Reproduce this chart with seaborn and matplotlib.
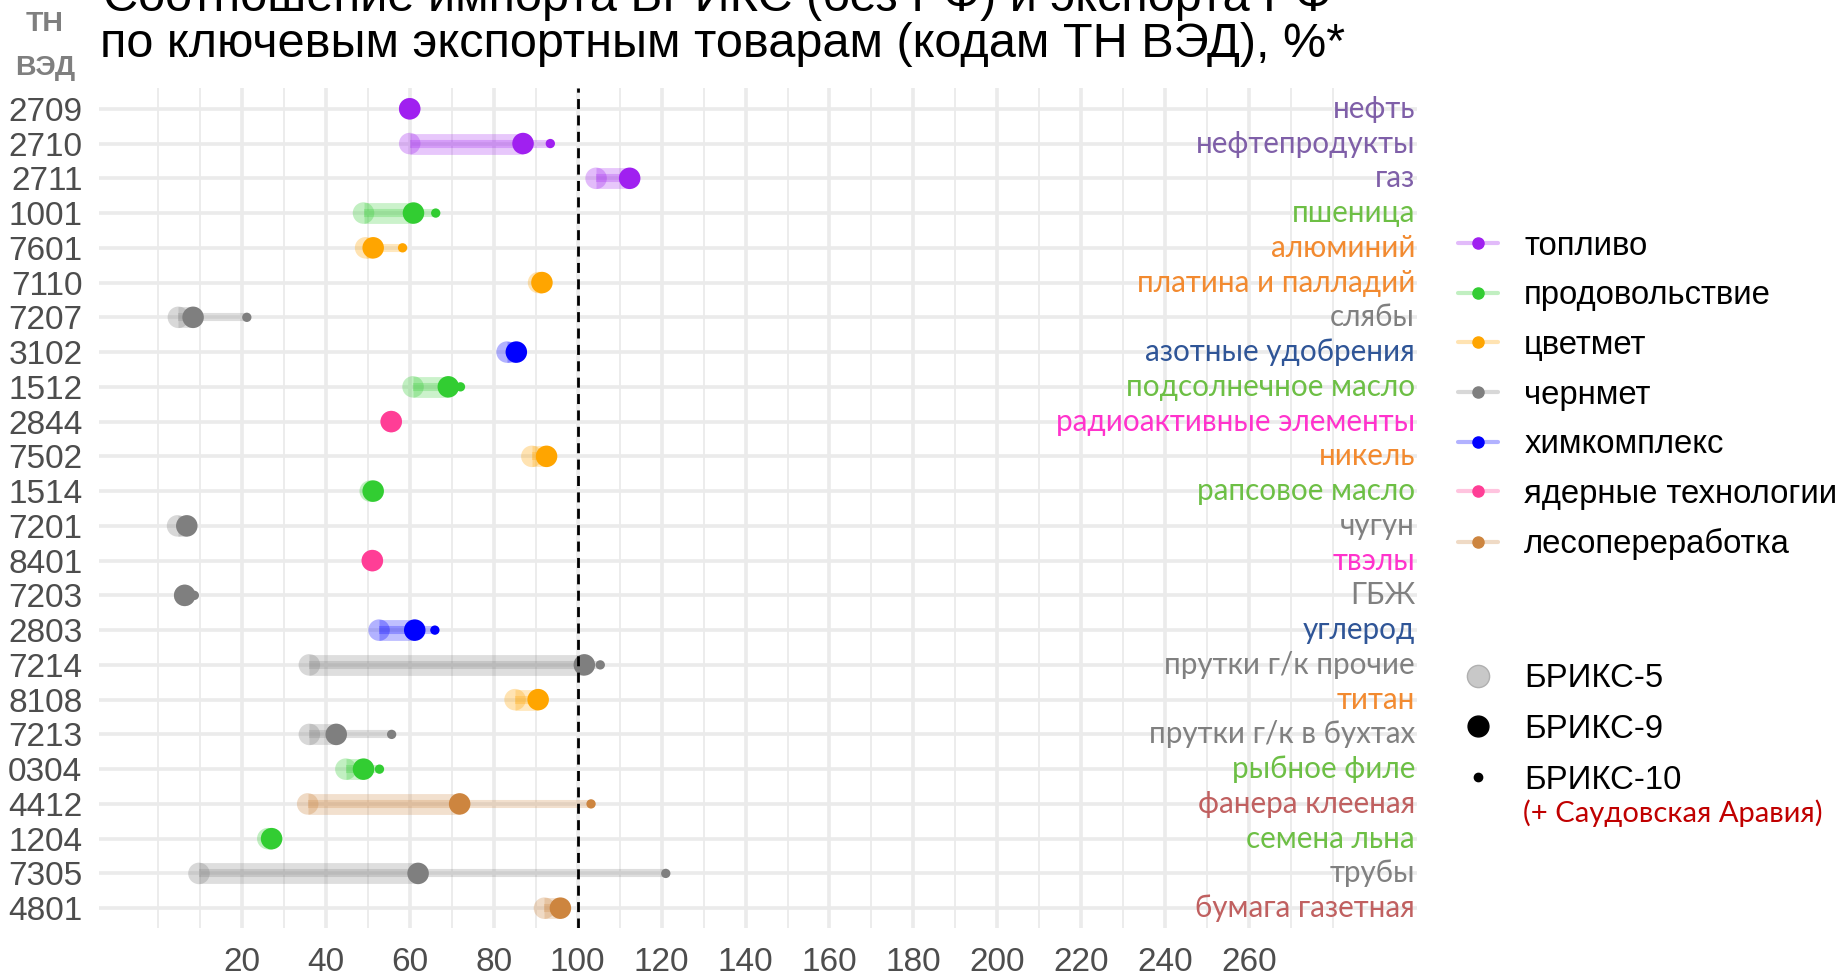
import numpy as np
import pandas as pd
import matplotlib.pyplot as plt
import seaborn as sns
from matplotlib.lines import Line2D

# HS codes, product names, product groups, and the three ratios (%)
codes = ["2709", "2710", "2711", "1001", "7601", "7110", "7207", "3102",
         "1512", "2844", "7502", "1514", "7201", "8401", "7203", "2803",
         "7214", "8108", "7213", "0304", "4412", "1204", "7305", "4801"]
names = ["нефть", "нефтепродукты", "газ", "пшеница", "алюминий",
         "платина и палладий", "слябы", "азотные удобрения",
         "подсолнечное масло", "радиоактивные элементы", "никель",
         "рапсовое масло", "чугун", "твэлы", "ГБЖ", "углерод",
         "прутки г/к прочие", "титан", "прутки г/к в бухтах", "рыбное филе",
         "фанера клееная", "семена льна", "трубы", "бумага газетная"]
groups = ["топливо", "топливо", "топливо", "продовольствие", "цветмет",
          "цветмет", "чернмет", "химкомплекс", "продовольствие",
          "ядерные технологии", "цветмет", "продовольствие", "чернмет",
          "ядерные технологии", "чернмет", "химкомплекс", "чернмет",
          "цветмет", "чернмет", "продовольствие", "лесопереработка",
          "продовольствие", "чернмет", "лесопереработка"]
brics5 = [60.0, 60.0, 104.4, 49.0, 49.5, 90.7, 4.9, 83.2, 60.8, 55.6, 89.1,
          50.6, 4.7, 51.1, 6.4, 52.7, 36.1, 85.1, 36.1, 44.8, 35.7, 26.2,
          9.8, 92.1]
brics9 = [60.0, 87.0, 112.4, 60.9, 51.3, 91.5, 8.4, 85.4, 69.2, 55.6, 92.6,
          51.3, 6.9, 51.1, 6.4, 61.2, 101.6, 90.6, 42.5, 49.0, 71.9, 27.1,
          62.0, 95.9]
brics10 = [60.0, 93.5, 112.4, 66.2, 58.3, 91.5, 21.2, 85.4, 72.1, 55.6,
           92.6, 51.3, 6.9, 51.1, 8.7, 66.0, 105.4, 90.6, 55.7, 52.8, 103.2,
           27.1, 121.0, 95.9]

group_order = ["топливо", "продовольствие", "цветмет", "чернмет",
               "химкомплекс", "ядерные технологии", "лесопереработка"]
group_colors = {
    "топливо": "#A020F0",
    "продовольствие": "#32CD32",
    "цветмет": "#FFA500",
    "чернмет": "#7F7F7F",
    "химкомплекс": "#0000FF",
    "ядерные технологии": "#FF3E96",
    "лесопереработка": "#CD853F",
}
label_colors = {
    "топливо": "#7F5FA8",
    "продовольствие": "#6DBF45",
    "цветмет": "#F28A30",
    "чернмет": "#808080",
    "химкомплекс": "#2F5597",
    "ядерные технологии": "#FF33CC",
    "лесопереработка": "#C06060",
}

df = pd.DataFrame({"code": codes, "name": names, "group": groups,
                   "b5": brics5, "b9": brics9, "b10": brics10})
df["row"] = np.arange(len(df))
df["color"] = df["group"].map(group_colors)

sns.set_theme(style="whitegrid")
plt.rcParams["font.family"] = ["Liberation Sans", "DejaVu Sans"]
label_font = ["Lato", "Open Sans", "DejaVu Sans"]

fig = plt.figure(figsize=(18.41, 9.76), dpi=100)
ax = fig.add_axes([0.0538, 0.0492, 0.716, 0.8607])

# bars: BRICS-5 -> BRICS-9 (thick), BRICS-5 -> BRICS-10 (thin)
ax.hlines(df["row"], df["b5"], df["b9"], colors=df["color"], lw=15,
          alpha=0.25, capstyle="butt", zorder=2)
ax.hlines(df["row"], df["b5"], df["b10"], colors=df["color"], lw=5.8,
          alpha=0.25, capstyle="butt", zorder=2)

sns.scatterplot(data=df, x="b5", y="row", hue="group", palette=group_colors,
                s=240, alpha=0.3, linewidth=0, legend=False, ax=ax, zorder=3)
sns.scatterplot(data=df, x="b9", y="row", hue="group", palette=group_colors,
                s=240, linewidth=0, legend=False, ax=ax, zorder=4)
sns.scatterplot(data=df, x="b10", y="row", hue="group", palette=group_colors,
                s=45, linewidth=0, legend=False, ax=ax, zorder=5)

ax.axvline(100, color="black", lw=2, dashes=(3.6, 2.3), zorder=6)

for _, r in df.iterrows():
    ax.text(299.5, r["row"], r["name"], ha="right", va="center",
            color=label_colors[r["group"]], fontsize=21.3, family=label_font,
            zorder=7)

ax.set_xlim(-14, 300)
ax.set_ylim(len(df) - 0.43, -0.6)
ax.set_xticks(range(20, 261, 20))
ax.set_xticks([0, 10] + list(range(30, 260, 20)) + [270, 280], minor=True)
ax.set_yticks(df["row"])
ax.set_yticklabels(df["code"])
ax.set_xlabel("")
ax.set_ylabel("")
ax.grid(False)
ax.grid(which="major", axis="x", color="#EBEBEB", lw=2.6)
ax.grid(which="minor", axis="x", color="#EBEBEB", lw=1.3)
ax.grid(which="major", axis="y", color="#EBEBEB", lw=2.6)
ax.set_axisbelow(True)
for s in ax.spines.values():
    s.set_visible(False)
ax.tick_params(axis="both", which="both", length=0, labelsize=24,
               labelcolor="#4D4D4D")
ax.tick_params(axis="x", pad=14)
ax.tick_params(axis="y", pad=12)

# legend: product groups
grp_handles = [
    (Line2D([], [], color=group_colors[g], lw=3, alpha=0.3),
     Line2D([], [], color=group_colors[g], marker="o", markersize=8, lw=0))
    for g in group_order
]
leg1 = ax.legend(grp_handles, group_order, loc="upper left",
                 bbox_to_anchor=(0.785, 0.777), bbox_transform=fig.transFigure,
                 frameon=False, fontsize=23.7, handlelength=1.2,
                 handletextpad=0.8, labelspacing=0.565, borderaxespad=0)
for t in leg1.get_texts():
    t.set_color("black")
ax.add_artist(leg1)

# legend: country groupings (marker size)
size_handles = [
    Line2D([], [], lw=0, marker="o", markersize=16, markerfacecolor="#C8C8C8",
           markeredgecolor="#B0B0B0", markeredgewidth=1),
    Line2D([], [], lw=0, marker="o", markersize=15, color="black"),
    Line2D([], [], lw=0, marker="o", markersize=6, color="black"),
]
leg2 = ax.legend(size_handles, ["БРИКС-5", "БРИКС-9", "БРИКС-10"],
                 loc="upper left", bbox_to_anchor=(0.785, 0.334),
                 bbox_transform=fig.transFigure, frameon=False, fontsize=23.7,
                 handlelength=1.2, handletextpad=0.8, labelspacing=0.6,
                 borderaxespad=0)
for t in leg2.get_texts():
    t.set_color("black")

fig.text(1523 / 1841, 1 - 813 / 976, "(+ Саудовская Аравия)", color="#C00000",
         fontsize=21, family=label_font, va="center", ha="left")

# title (first line is cut by the top edge, as in the source)
fig.text(103 / 1841, 1 - 11 / 976,
         "Соотношение импорта БРИКС (без РФ) и экспорта РФ",
         fontsize=35, color="black", va="baseline", ha="left")
fig.text(100 / 1841, 1 - 57 / 976,
         "по ключевым экспортным товарам (кодам ТН ВЭД), %*",
         fontsize=35, color="black", va="baseline", ha="left")
fig.text(45 / 1841, 1 - 24 / 976, "ТН", fontsize=20.5, fontweight="bold",
         color="#7F7F7F", ha="center", va="center")
fig.text(45 / 1841, 1 - 68 / 976, "ВЭД", fontsize=20.5, fontweight="bold",
         color="#7F7F7F", ha="center", va="center")

fig.savefig("out.png", dpi=100)
